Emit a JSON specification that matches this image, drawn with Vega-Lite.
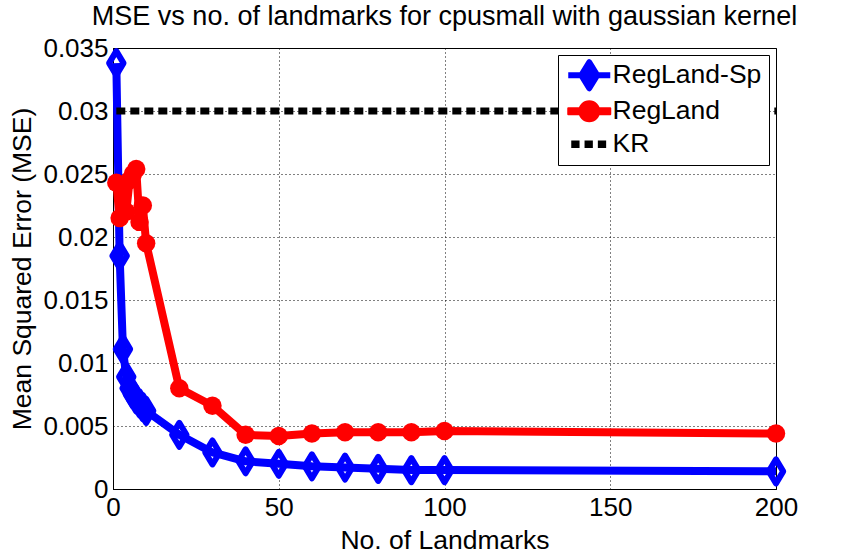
{
  "$schema": "https://vega.github.io/schema/vega-lite/v6.json",
  "width": 663,
  "height": 441,
  "autosize": {"type": "none"},
  "padding": {"left": 113, "top": 48, "right": 81, "bottom": 65},
  "background": "white",
  "title": {
    "text": "MSE vs no. of landmarks for cpusmall with gaussian kernel",
    "anchor": "middle",
    "fontSize": 27,
    "fontWeight": "normal",
    "font": "Liberation Sans",
    "color": "black",
    "offset": 4
  },
  "config": {
    "font": "Liberation Sans",
    "view": {"stroke": "black", "strokeWidth": 1},
    "axis": {
      "domainColor": "black",
      "gridColor": "black",
      "gridDash": [1, 3],
      "gridOpacity": 1,
      "gridWidth": 1,
      "ticks": false,
      "labelColor": "black",
      "labelFont": "Liberation Sans",
      "labelFontSize": 26,
      "labelFlush": false,
      "labelOverlap": false,
      "titleColor": "black",
      "titleFont": "Liberation Sans",
      "titleFontSize": 26.5,
      "titleFontWeight": "normal"
    }
  },
  "data": {
    "values": [
      {"series": "RegLand-Sp", "landmarks": 1, "mse": 0.0338},
      {"series": "RegLand-Sp", "landmarks": 2, "mse": 0.0185},
      {"series": "RegLand-Sp", "landmarks": 3, "mse": 0.0111},
      {"series": "RegLand-Sp", "landmarks": 4, "mse": 0.0089},
      {"series": "RegLand-Sp", "landmarks": 5, "mse": 0.0080},
      {"series": "RegLand-Sp", "landmarks": 6, "mse": 0.0075},
      {"series": "RegLand-Sp", "landmarks": 7, "mse": 0.0071},
      {"series": "RegLand-Sp", "landmarks": 8, "mse": 0.0068},
      {"series": "RegLand-Sp", "landmarks": 9, "mse": 0.0065},
      {"series": "RegLand-Sp", "landmarks": 10, "mse": 0.0062},
      {"series": "RegLand-Sp", "landmarks": 20, "mse": 0.0043},
      {"series": "RegLand-Sp", "landmarks": 30, "mse": 0.0029},
      {"series": "RegLand-Sp", "landmarks": 40, "mse": 0.0022},
      {"series": "RegLand-Sp", "landmarks": 50, "mse": 0.0020},
      {"series": "RegLand-Sp", "landmarks": 60, "mse": 0.0018},
      {"series": "RegLand-Sp", "landmarks": 70, "mse": 0.0017},
      {"series": "RegLand-Sp", "landmarks": 80, "mse": 0.0016},
      {"series": "RegLand-Sp", "landmarks": 90, "mse": 0.0015},
      {"series": "RegLand-Sp", "landmarks": 100, "mse": 0.0015},
      {"series": "RegLand-Sp", "landmarks": 200, "mse": 0.0014},
      {"series": "RegLand", "landmarks": 1, "mse": 0.0243},
      {"series": "RegLand", "landmarks": 2, "mse": 0.0215},
      {"series": "RegLand", "landmarks": 3, "mse": 0.0240},
      {"series": "RegLand", "landmarks": 4, "mse": 0.0220},
      {"series": "RegLand", "landmarks": 5, "mse": 0.0245},
      {"series": "RegLand", "landmarks": 6, "mse": 0.0250},
      {"series": "RegLand", "landmarks": 7, "mse": 0.0254},
      {"series": "RegLand", "landmarks": 8, "mse": 0.0212},
      {"series": "RegLand", "landmarks": 9, "mse": 0.0225},
      {"series": "RegLand", "landmarks": 10, "mse": 0.0195},
      {"series": "RegLand", "landmarks": 20, "mse": 0.0080},
      {"series": "RegLand", "landmarks": 30, "mse": 0.0066},
      {"series": "RegLand", "landmarks": 40, "mse": 0.0043},
      {"series": "RegLand", "landmarks": 50, "mse": 0.0042},
      {"series": "RegLand", "landmarks": 60, "mse": 0.0044},
      {"series": "RegLand", "landmarks": 70, "mse": 0.0045},
      {"series": "RegLand", "landmarks": 80, "mse": 0.0045},
      {"series": "RegLand", "landmarks": 90, "mse": 0.0045},
      {"series": "RegLand", "landmarks": 100, "mse": 0.0046},
      {"series": "RegLand", "landmarks": 200, "mse": 0.0044},
      {"series": "KR", "landmarks": 1, "mse": 0.0300},
      {"series": "KR", "landmarks": 200, "mse": 0.0300}
    ]
  },
  "encoding": {
    "x": {
      "field": "landmarks",
      "type": "quantitative",
      "scale": {"domain": [0, 200], "nice": false},
      "axis": {
        "values": [0, 50, 100, 150, 200],
        "title": "No. of Landmarks",
        "labelPadding": 5,
        "titlePadding": 7
      }
    },
    "y": {
      "field": "mse",
      "type": "quantitative",
      "scale": {"domain": [0, 0.035], "nice": false},
      "axis": {
        "values": [0, 0.005, 0.01, 0.015, 0.02, 0.025, 0.03, 0.035],
        "format": "~g",
        "title": "Mean Squared Error (MSE)",
        "labelPadding": 5,
        "titlePadding": 6
      }
    },
    "color": {
      "field": "series",
      "type": "nominal",
      "scale": {
        "domain": ["RegLand-Sp", "RegLand", "KR"],
        "range": ["#0000ff", "#ff0000", "#000000"]
      },
      "legend": {
        "title": null,
        "orient": "top-right",
        "offset": 7,
        "padding": 7,
        "rowPadding": 6,
        "fillColor": "white",
        "strokeColor": "black",
        "cornerRadius": 0,
        "labelFont": "Liberation Sans",
        "labelFontSize": 26.5,
        "labelColor": "black",
        "labelOffset": 10,
        "symbolSize": 400,
        "symbolOffset": 11,
        "symbolType": "circle",
        "encode": {
          "symbols": {
            "update": {
              "shape": {"signal": "datum.value === 'RegLand-Sp' ? 'M-2.1,0H2.1M0,-1.3L0.8,0L0,1.3L-0.8,0Z' : datum.value === 'RegLand' ? 'M-2.1,-0.3H2.1V0.3H-2.1ZM1,0A1,1 0 1 1 -1,0A1,1 0 1 1 1,0Z' : 'M-1.8,-0.38H-0.97V0.38H-1.8ZM-0.47,-0.38H0.36V0.38H-0.47ZM0.86,-0.38H1.69V0.38H0.86Z'"},
              "fill": {"signal": "datum.value === 'RegLand' ? '#ff0000' : datum.value === 'KR' ? '#000000' : 'transparent'"},
              "stroke": {"signal": "datum.value === 'RegLand-Sp' ? '#0000ff' : datum.value === 'RegLand' ? '#ff0000' : 'transparent'"},
              "strokeWidth": {"signal": "datum.value === 'KR' ? 0 : datum.value === 'RegLand' ? 2 : 6"},
              "strokeJoin": {"value": "round"},
              "strokeDash": {"value": []},
              "opacity": {"value": 1},
              "fillOpacity": {"value": 1},
              "strokeOpacity": {"value": 1}
            }
          }
        }
      }
    }
  },
  "layer": [
    {
      "transform": [{"filter": "datum.series === 'RegLand-Sp'"}],
      "mark": {"type": "line", "strokeWidth": 8, "strokeJoin": "round"}
    },
    {
      "transform": [{"filter": "datum.series === 'RegLand-Sp'"}],
      "mark": {
        "type": "point",
        "shape": "M0,-1L0.6,0L0,1L-0.6,0Z",
        "filled": false,
        "size": 576,
        "strokeWidth": 6,
        "strokeJoin": "round",
        "opacity": 1
      }
    },
    {
      "transform": [{"filter": "datum.series === 'RegLand'"}],
      "mark": {"type": "line", "strokeWidth": 8, "strokeJoin": "round"}
    },
    {
      "transform": [{"filter": "datum.series === 'RegLand'"}],
      "mark": {"type": "circle", "size": 340, "opacity": 1}
    },
    {
      "transform": [{"filter": "datum.series === 'KR'"}],
      "mark": {"type": "line", "strokeWidth": 7, "strokeDash": [9, 5], "strokeCap": "butt"}
    }
  ]
}
